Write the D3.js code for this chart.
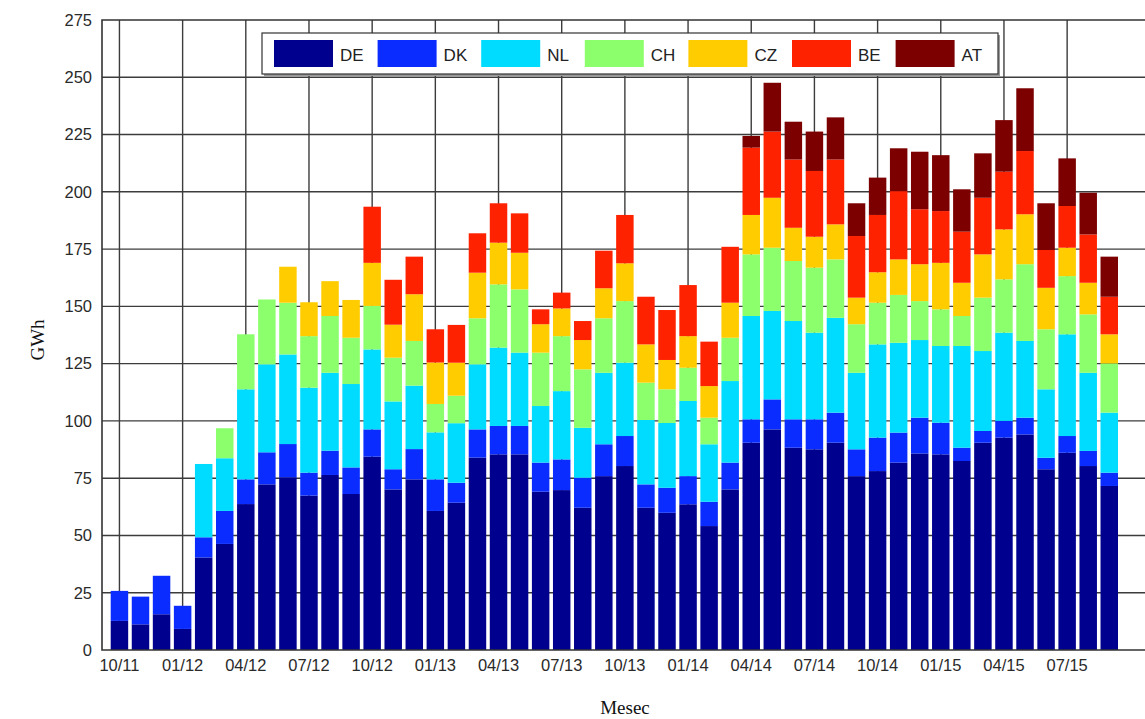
<!DOCTYPE html>
<html>
<head>
<meta charset="utf-8">
<script src="https://cdn.jsdelivr.net/npm/d3@7"></script>
<style>
  html, body { margin: 0; padding: 0; background: #fff; }
  svg { display: block; }
</style>
</head>
<body>
<svg id="chart" width="1145" height="719"></svg>
<script>
// months shown on the x axis (one bar per month)
const months = [
  "10/11", "11/11", "12/11",
  "01/12", "02/12", "03/12", "04/12", "05/12", "06/12", "07/12", "08/12", "09/12", "10/12", "11/12", "12/12",
  "01/13", "02/13", "03/13", "04/13", "05/13", "06/13", "07/13", "08/13", "09/13", "10/13", "11/13", "12/13",
  "01/14", "02/14", "03/14", "04/14", "05/14", "06/14", "07/14", "08/14", "09/14", "10/14", "11/14", "12/14",
  "01/15", "02/15", "03/15", "04/15", "05/15", "06/15", "07/15", "08/15", "09/15"
];
const xTickLabels = ["10/11", "01/12", "04/12", "07/12", "10/12", "01/13", "04/13", "07/13",
  "10/13", "01/14", "04/14", "07/14", "10/14", "01/15", "04/15", "07/15"];
const yTicks = [0, 25, 50, 75, 100, 125, 150, 175, 200, 225, 250, 275];

const seriesNames = ["DE", "DK", "NL", "CH", "CZ", "BE", "AT"];
const seriesColors = ["#00008f", "#0a2cff", "#00dcff", "#8cff6c", "#ffcc00", "#ff2200", "#7c0000"];

// GWh per month, per country
const DE = [12.7, 11.2, 15.6, 9.2, 40.4, 46.3, 63.7, 72.3, 75.4, 67.4, 76.4, 68.1,
  84.4, 70.1, 74.5, 60.7, 64.3, 84.0, 85.4, 85.4, 69.1, 69.8, 62.1, 75.9, 80.3, 62.1, 59.9, 63.6, 54.1, 70.1,
  90.5, 96.3, 88.3, 87.6, 90.5, 75.9, 78.1, 81.8, 85.8, 85.4, 82.5, 90.5, 92.7, 94.1, 78.9, 86.1, 80.3, 71.6];
const DK = [13.1, 12.1, 16.8, 10.1, 8.8, 14.4, 10.8, 14.0, 14.5, 10.0, 10.6, 11.6,
  11.9, 8.8, 13.2, 13.8, 8.7, 12.3, 12.4, 12.4, 12.7, 13.4, 13.1, 13.9, 13.1, 10.2, 10.9, 12.3, 10.6, 11.7,
  10.2, 13.1, 12.4, 13.1, 13.1, 11.7, 14.6, 13.1, 15.6, 13.8, 5.8, 5.1, 7.3, 7.3, 5.0, 7.3, 6.6, 5.8];
const NL = [0, 0, 0, 0, 32.0, 23.0, 39.3, 38.4, 39.1, 37.1, 34.0, 36.4,
  34.9, 29.6, 27.7, 20.5, 26.0, 28.4, 34.2, 32.0, 24.7, 29.8, 21.8, 31.2, 32.0, 28.1, 28.3, 32.8, 25.1, 35.6,
  45.1, 38.6, 42.9, 37.8, 41.4, 33.4, 40.7, 39.2, 33.9, 33.5, 44.4, 34.9, 38.5, 33.5, 29.9, 44.4, 34.1, 26.2];
const CH = [0, 0, 0, 0, 0, 13.1, 24.0, 28.3, 22.6, 22.5, 24.8, 20.2,
  19.0, 19.1, 19.5, 12.4, 12.0, 20.1, 27.6, 27.6, 23.3, 24.0, 25.5, 23.8, 26.9, 16.3, 14.7, 14.5, 11.6, 18.9,
  26.9, 27.6, 26.2, 28.4, 25.5, 21.2, 18.2, 20.9, 17.0, 16.0, 13.1, 23.3, 23.3, 33.5, 26.2, 25.4, 25.5, 21.5];
const CZ = [0, 0, 0, 0, 0, 0, 0, 0, 15.7, 14.8, 15.2, 16.5,
  18.8, 14.4, 20.4, 18.1, 14.4, 19.9, 18.2, 16.0, 12.4, 12.1, 12.8, 13.1, 16.5, 16.7, 12.8, 13.8, 13.8, 15.3,
  17.2, 21.8, 14.5, 13.5, 15.3, 11.6, 13.3, 15.5, 16.1, 20.3, 14.5, 18.9, 21.8, 21.8, 18.1, 12.4, 13.8, 12.7];
const BE = [0, 0, 0, 0, 0, 0, 0, 0, 0, 0, 0, 0,
  24.5, 19.6, 16.4, 14.5, 16.5, 17.2, 17.2, 17.2, 6.5, 6.9, 8.3, 16.4, 21.1, 20.8, 21.8, 22.3, 19.4, 24.4,
  29.4, 28.9, 29.8, 28.7, 28.3, 26.9, 25.0, 29.8, 24.0, 22.6, 22.3, 24.7, 25.2, 27.6, 16.5, 18.2, 21.1, 16.4];
const AT = [0, 0, 0, 0, 0, 0, 0, 0, 0, 0, 0, 0,
  0, 0, 0, 0, 0, 0, 0, 0, 0, 0, 0, 0, 0, 0, 0, 0, 0, 0,
  5.1, 21.3, 16.5, 17.2, 18.4, 14.3, 16.3, 18.7, 25.1, 24.4, 18.5, 19.4, 22.5, 27.4, 20.4, 20.8, 18.2, 17.5];

const seriesValues = [DE, DK, NL, CH, CZ, BE, AT];

const rows = months.map((m, i) => {
  const r = { month: m };
  seriesNames.forEach((s, k) => { r[s] = seriesValues[k][i]; });
  return r;
});

const svg = d3.select("#chart");
const plot = { left: 102, top: 20, right: 1150, bottom: 650 };

const step = 21.06;
const x = d3.scaleBand()
  .domain(months)
  .range([110.7, 110.7 + step * (months.length - 0.17)])
  .paddingInner(0.17)
  .paddingOuter(0);
const y = d3.scaleLinear().domain([0, 275]).range([plot.bottom, plot.top]);
const color = d3.scaleOrdinal().domain(seriesNames).range(seriesColors);

const gridColor = "#3c3c3c";

// grid
const grid = svg.append("g").attr("class", "grid");
grid.selectAll("line.h")
  .data(yTicks.filter(t => t > 0 && t < 275))
  .enter().append("line")
  .attr("class", "h")
  .attr("x1", plot.left).attr("x2", plot.right)
  .attr("y1", d => y(d)).attr("y2", d => y(d))
  .attr("stroke", gridColor).attr("stroke-width", 1.4);
grid.selectAll("line.v")
  .data(xTickLabels)
  .enter().append("line")
  .attr("class", "v")
  .attr("x1", d => x(d) + x.bandwidth() / 2).attr("x2", d => x(d) + x.bandwidth() / 2)
  .attr("y1", plot.top).attr("y2", plot.bottom)
  .attr("stroke", gridColor).attr("stroke-width", 1.4);

// stacked bars
const stacked = d3.stack().keys(seriesNames)(rows);
svg.append("g")
  .attr("class", "bars")
  .selectAll("g")
  .data(stacked)
  .enter().append("g")
  .attr("fill", d => color(d.key))
  .selectAll("rect")
  .data(d => d.filter(p => p[1] - p[0] > 0))
  .enter().append("rect")
  .attr("x", d => x(d.data.month))
  .attr("width", x.bandwidth())
  .attr("y", d => y(d[1]))
  .attr("height", d => y(d[0]) - y(d[1]));

// frame
svg.append("path")
  .attr("d", `M${plot.right},${plot.top}H${plot.left}V${plot.bottom}H${plot.right}`)
  .attr("fill", "none")
  .attr("stroke", "#333")
  .attr("stroke-width", 1.6);

// axes
const yAxis = svg.append("g")
  .attr("transform", `translate(${plot.left},0)`)
  .call(d3.axisLeft(y).tickValues(yTicks).tickSize(0).tickPadding(10));
const xAxis = svg.append("g")
  .attr("transform", `translate(0,${plot.bottom})`)
  .call(d3.axisBottom(x).tickValues(xTickLabels).tickSize(0).tickPadding(7));
[xAxis, yAxis].forEach(a => {
  a.select(".domain").remove();
  a.selectAll("text")
    .attr("fill", "#2a2a2a")
    .style("font-family", "'Liberation Sans', Arial, sans-serif")
    .style("font-size", "16.5px");
});
xAxis.selectAll("text").attr("dy", "0.85em");

// axis titles
svg.append("text")
  .attr("transform", "translate(44,340) rotate(-90)")
  .attr("text-anchor", "middle")
  .style("font-family", "'Liberation Serif', 'Times New Roman', serif")
  .style("font-size", "19px")
  .attr("fill", "#111")
  .text("GWh");
svg.append("text")
  .attr("x", 625).attr("y", 714)
  .attr("text-anchor", "middle")
  .style("font-family", "'Liberation Serif', 'Times New Roman', serif")
  .style("font-size", "19px")
  .attr("fill", "#111")
  .text("Mesec");

// legend
const legend = svg.append("g").attr("class", "legend");
legend.append("rect")
  .attr("x", 264).attr("y", 35).attr("width", 736).attr("height", 41)
  .attr("fill", "#999");
legend.append("rect")
  .attr("x", 262).attr("y", 33).attr("width", 736).attr("height", 41)
  .attr("fill", "#fff").attr("stroke", "#333").attr("stroke-width", 1.2);
const entry = legend.selectAll("g.entry")
  .data(seriesNames)
  .enter().append("g")
  .attr("class", "entry")
  .attr("transform", (d, i) => `translate(${274 + i * 103.6},0)`);
entry.append("rect")
  .attr("x", 0).attr("y", 40).attr("width", 59).attr("height", 27)
  .attr("fill", d => color(d));
entry.append("text")
  .attr("x", 66).attr("y", 61)
  .style("font-family", "'Liberation Sans', Arial, sans-serif")
  .style("font-size", "17px")
  .attr("fill", "#222")
  .text(d => d);
</script>
</body>
</html>
